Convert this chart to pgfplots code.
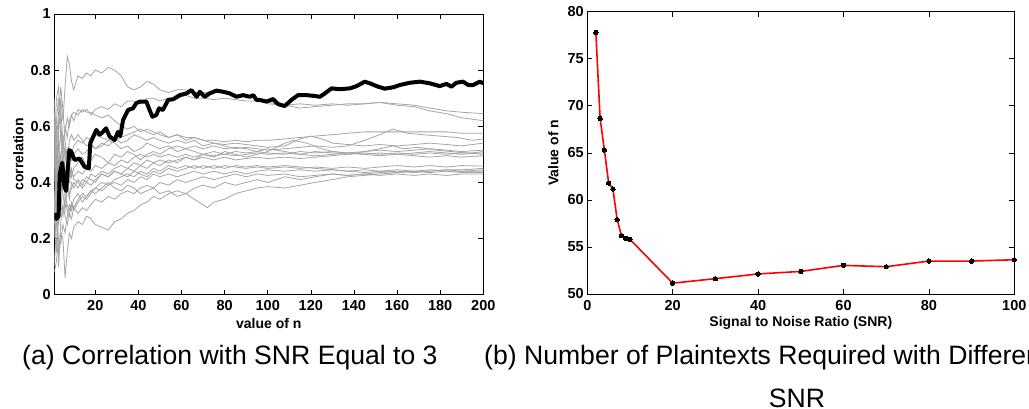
\documentclass[border=0pt]{standalone}
\usepackage{pgfplots}
\pgfplotsset{compat=1.18}
\usepackage{fontspec}
\setmainfont{Liberation Sans}
\definecolor{lg}{RGB}{165,165,165}
\pgfplotsset{
  mystyle/.style={
    scale only axis,
    axis line style={line width=0.8pt},
    every tick/.style={black, line width=0.6pt},
    major tick length=5pt,
    every tick label/.append style={font=\fontsize{14.5}{16}\selectfont\bfseries},
    every axis label/.append style={font=\fontsize{14}{16}\selectfont\bfseries},
    /pgf/number format/assume math mode=true,
    xticklabel={\textbf{\pgfmathprintnumber{\tick}}},
    xticklabel style={yshift=-2.5pt},
  },
  gl/.style={lg, line width=0.8pt, mark=none},
}
\begin{document}
\begin{tikzpicture}[x=1pt,y=1pt]
\path[use as bounding box] (0,0) rectangle (1029,409);
\begin{axis}[mystyle,
  at={(54.3pt,114.3pt)}, anchor=south west,
  width=429pt, height=280.7pt,
  xmin=1, xmax=200, ymin=0, ymax=1,
  xtick={20,40,...,200}, ytick={0,0.2,...,1},
  yticklabels={\textbf{0},\textbf{0.2},\textbf{0.4},\textbf{0.6},\textbf{0.8},\textbf{1}},
  xlabel={value of n}, ylabel={correlation},
  xlabel style={at={(axis description cs:0.5,-0.1015)}, anchor=center},
  ylabel style={at={(axis description cs:-0.0839,0.5)}, anchor=center},
]
% A
\addplot[gl] coordinates {(1,0.62)(2,0.45)(3,0.58)(4,0.70)(5,0.62)(6,0.74)(7,0.85)(8,0.82)(9,0.76)(10,0.73)(12,0.78)(14,0.77)(16,0.79)(18,0.78)(20,0.80)(23,0.79)(26,0.81)(29,0.80)(32,0.78)(35,0.74)(38,0.73)(41,0.74)(44,0.76)(47,0.75)(50,0.73)(54,0.72)(58,0.73)(62,0.73)(66,0.72)(70,0.72)(75,0.72)(80,0.72)(85,0.715)(90,0.71)(95,0.70)(100,0.68)(108,0.675)(115,0.665)(122,0.67)(130,0.675)(137,0.68)(145,0.68)(152,0.685)(160,0.68)(168,0.675)(175,0.665)(183,0.655)(190,0.65)(200,0.645)};
% B
\addplot[gl] coordinates {(1,0.40)(2,0.62)(3,0.70)(4,0.55)(5,0.50)(6,0.60)(7,0.56)(8,0.62)(9,0.64)(10,0.62)(12,0.66)(14,0.65)(16,0.66)(18,0.64)(20,0.66)(23,0.67)(26,0.66)(29,0.68)(32,0.67)(35,0.69)(38,0.69)(41,0.68)(44,0.70)(47,0.70)(50,0.69)(54,0.70)(58,0.70)(62,0.71)(66,0.70)(70,0.70)(75,0.695)(80,0.70)(85,0.695)(90,0.69)(95,0.69)(100,0.685)(108,0.675)(115,0.68)(122,0.675)(130,0.68)(137,0.675)(145,0.68)(152,0.685)(160,0.675)(168,0.67)(175,0.655)(183,0.645)(190,0.63)(200,0.62)};
% C
\addplot[gl] coordinates {(1,0.50)(2,0.35)(3,0.62)(4,0.66)(5,0.55)(6,0.58)(7,0.63)(8,0.60)(9,0.64)(10,0.65)(12,0.64)(14,0.66)(16,0.65)(18,0.65)(20,0.64)(23,0.63)(26,0.64)(29,0.62)(32,0.60)(35,0.59)(38,0.60)(41,0.58)(44,0.59)(47,0.58)(50,0.57)(54,0.56)(58,0.57)(62,0.56)(66,0.56)(70,0.55)(75,0.55)(80,0.545)(85,0.55)(90,0.545)(95,0.55)(100,0.55)(108,0.555)(115,0.56)(122,0.565)(130,0.57)(137,0.575)(145,0.58)(152,0.58)(160,0.58)(168,0.58)(175,0.58)(183,0.58)(190,0.575)(200,0.575)};
% D
\addplot[gl] coordinates {(1,0.30)(2,0.55)(3,0.45)(4,0.50)(5,0.42)(6,0.48)(7,0.52)(8,0.47)(9,0.50)(10,0.53)(12,0.55)(14,0.54)(16,0.56)(18,0.55)(20,0.57)(23,0.56)(26,0.55)(29,0.56)(32,0.54)(35,0.55)(38,0.57)(41,0.56)(44,0.55)(47,0.56)(50,0.55)(54,0.54)(58,0.55)(62,0.54)(66,0.55)(70,0.53)(75,0.54)(80,0.53)(85,0.52)(90,0.525)(95,0.52)(100,0.515)(108,0.52)(115,0.525)(122,0.53)(130,0.525)(137,0.53)(145,0.55)(152,0.57)(158,0.59)(165,0.575)(172,0.57)(180,0.565)(188,0.56)(195,0.55)(200,0.555)};
% E
\addplot[gl] coordinates {(1,0.65)(2,0.50)(3,0.40)(4,0.48)(5,0.56)(6,0.50)(7,0.45)(8,0.52)(9,0.48)(10,0.50)(12,0.52)(14,0.50)(16,0.51)(18,0.53)(20,0.52)(23,0.54)(26,0.53)(29,0.55)(32,0.56)(35,0.57)(38,0.58)(41,0.59)(44,0.58)(47,0.57)(50,0.58)(54,0.56)(58,0.57)(62,0.55)(66,0.56)(70,0.55)(75,0.54)(80,0.535)(85,0.54)(90,0.535)(95,0.53)(100,0.525)(108,0.53)(115,0.555)(120,0.565)(125,0.555)(130,0.54)(137,0.535)(145,0.53)(152,0.535)(160,0.53)(168,0.535)(175,0.54)(183,0.535)(190,0.53)(200,0.54)};
% F
\addplot[gl] coordinates {(1,0.20)(2,0.42)(3,0.55)(4,0.38)(5,0.45)(6,0.52)(7,0.48)(8,0.55)(9,0.57)(10,0.55)(12,0.57)(14,0.55)(16,0.53)(18,0.54)(20,0.52)(23,0.53)(26,0.55)(29,0.54)(32,0.52)(35,0.53)(38,0.51)(41,0.52)(44,0.54)(47,0.53)(50,0.52)(54,0.53)(58,0.51)(62,0.52)(66,0.51)(70,0.50)(75,0.51)(80,0.50)(85,0.51)(90,0.505)(95,0.51)(100,0.505)(108,0.50)(115,0.51)(122,0.505)(130,0.51)(137,0.505)(145,0.51)(152,0.515)(160,0.51)(168,0.515)(175,0.52)(183,0.515)(190,0.51)(200,0.515)};
% G
\addplot[gl] coordinates {(1,0.55)(2,0.30)(3,0.48)(4,0.60)(5,0.52)(6,0.42)(7,0.50)(8,0.46)(9,0.42)(10,0.45)(12,0.47)(14,0.49)(16,0.46)(18,0.48)(20,0.50)(23,0.49)(26,0.47)(29,0.50)(32,0.49)(35,0.51)(38,0.50)(41,0.48)(44,0.50)(47,0.51)(50,0.50)(54,0.52)(58,0.53)(62,0.52)(66,0.53)(70,0.52)(75,0.53)(80,0.52)(85,0.525)(90,0.52)(95,0.51)(100,0.52)(108,0.51)(115,0.50)(122,0.495)(130,0.50)(137,0.505)(145,0.50)(152,0.505)(160,0.50)(168,0.505)(175,0.51)(183,0.505)(190,0.50)(200,0.51)};
% H
\addplot[gl] coordinates {(1,0.10)(2,0.25)(3,0.35)(4,0.30)(5,0.40)(6,0.36)(7,0.42)(8,0.40)(9,0.44)(10,0.42)(12,0.44)(14,0.43)(16,0.45)(18,0.44)(20,0.46)(23,0.45)(26,0.47)(29,0.46)(32,0.48)(35,0.47)(38,0.49)(41,0.50)(44,0.49)(47,0.50)(50,0.49)(54,0.50)(58,0.49)(62,0.50)(66,0.49)(70,0.50)(75,0.495)(80,0.50)(85,0.495)(90,0.50)(95,0.505)(100,0.50)(108,0.505)(115,0.50)(122,0.51)(130,0.505)(137,0.50)(145,0.505)(152,0.50)(160,0.505)(168,0.50)(175,0.505)(183,0.50)(190,0.505)(200,0.505)};
% I
\addplot[gl] coordinates {(1,0.45)(2,0.60)(3,0.52)(4,0.44)(5,0.38)(6,0.44)(7,0.40)(8,0.36)(9,0.38)(10,0.40)(12,0.38)(14,0.41)(16,0.40)(18,0.43)(20,0.42)(23,0.44)(26,0.43)(29,0.45)(32,0.46)(35,0.45)(38,0.47)(41,0.46)(44,0.48)(47,0.47)(50,0.48)(54,0.47)(58,0.48)(62,0.49)(66,0.48)(70,0.49)(75,0.48)(80,0.49)(85,0.48)(90,0.485)(95,0.49)(100,0.485)(108,0.49)(115,0.485)(122,0.49)(130,0.495)(137,0.50)(145,0.51)(152,0.52)(158,0.53)(163,0.52)(170,0.525)(178,0.515)(185,0.51)(192,0.505)(200,0.50)};
% J
\addplot[gl] coordinates {(1,0.35)(2,0.15)(3,0.30)(4,0.42)(5,0.36)(6,0.30)(7,0.38)(8,0.34)(9,0.40)(10,0.38)(12,0.41)(14,0.39)(16,0.42)(18,0.41)(20,0.40)(23,0.43)(26,0.42)(29,0.44)(32,0.43)(35,0.45)(38,0.44)(41,0.46)(44,0.45)(47,0.47)(50,0.46)(54,0.48)(58,0.47)(62,0.49)(66,0.48)(70,0.50)(75,0.49)(80,0.51)(85,0.50)(90,0.49)(95,0.50)(100,0.51)(108,0.54)(112,0.55)(118,0.54)(125,0.52)(130,0.51)(137,0.505)(145,0.50)(152,0.495)(160,0.50)(168,0.495)(175,0.49)(183,0.495)(190,0.49)(200,0.495)};
% K
\addplot[gl] coordinates {(1,0.60)(2,0.40)(3,0.25)(4,0.32)(5,0.28)(6,0.35)(7,0.32)(8,0.30)(9,0.33)(10,0.31)(12,0.34)(14,0.36)(16,0.35)(18,0.37)(20,0.38)(23,0.40)(26,0.39)(29,0.41)(32,0.42)(35,0.43)(38,0.42)(41,0.44)(44,0.43)(47,0.45)(50,0.44)(54,0.46)(58,0.45)(62,0.46)(66,0.45)(70,0.46)(75,0.45)(80,0.46)(85,0.455)(90,0.45)(95,0.455)(100,0.45)(108,0.455)(115,0.45)(122,0.455)(130,0.45)(137,0.455)(145,0.45)(152,0.455)(160,0.46)(168,0.455)(175,0.46)(183,0.455)(190,0.46)(200,0.458)};
% L
\addplot[gl] coordinates {(1,0.08)(2,0.12)(3,0.20)(4,0.18)(5,0.25)(6,0.22)(7,0.28)(8,0.32)(9,0.30)(10,0.34)(12,0.36)(14,0.33)(16,0.35)(18,0.37)(20,0.36)(23,0.38)(26,0.40)(29,0.38)(32,0.37)(35,0.39)(38,0.38)(41,0.36)(44,0.37)(47,0.38)(50,0.36)(54,0.37)(58,0.35)(62,0.36)(66,0.34)(70,0.32)(72,0.31)(75,0.33)(80,0.34)(85,0.36)(90,0.37)(95,0.38)(100,0.385)(108,0.38)(115,0.39)(122,0.40)(130,0.41)(137,0.42)(145,0.425)(152,0.43)(160,0.435)(168,0.44)(175,0.44)(183,0.445)(190,0.445)(200,0.45)};
% M
\addplot[gl] coordinates {(1,0.30)(2,0.45)(3,0.15)(4,0.22)(5,0.20)(6,0.06)(7,0.15)(8,0.22)(9,0.20)(10,0.24)(12,0.26)(14,0.25)(16,0.28)(18,0.27)(20,0.25)(23,0.24)(26,0.23)(29,0.26)(32,0.27)(35,0.29)(38,0.30)(41,0.32)(44,0.33)(47,0.35)(50,0.34)(54,0.36)(58,0.37)(62,0.36)(66,0.38)(70,0.39)(75,0.38)(80,0.40)(85,0.39)(90,0.40)(95,0.41)(100,0.40)(108,0.42)(115,0.41)(122,0.42)(130,0.43)(137,0.425)(145,0.43)(152,0.435)(160,0.44)(168,0.435)(175,0.44)(183,0.445)(190,0.44)(200,0.445)};
% N
\addplot[gl] coordinates {(1,0.50)(2,0.70)(3,0.74)(4,0.60)(5,0.45)(6,0.35)(7,0.30)(8,0.28)(9,0.32)(10,0.30)(12,0.33)(14,0.35)(16,0.34)(18,0.36)(20,0.38)(23,0.37)(26,0.39)(29,0.40)(32,0.39)(35,0.41)(38,0.40)(41,0.42)(44,0.41)(47,0.43)(50,0.42)(54,0.43)(58,0.42)(62,0.43)(66,0.44)(70,0.43)(75,0.44)(80,0.43)(85,0.44)(90,0.43)(95,0.44)(100,0.445)(108,0.44)(115,0.445)(122,0.44)(130,0.445)(137,0.44)(145,0.445)(152,0.44)(160,0.445)(168,0.44)(175,0.445)(183,0.44)(190,0.44)(200,0.44)};
% O
\addplot[gl] coordinates {(1,0.25)(2,0.55)(3,0.65)(4,0.74)(5,0.66)(6,0.55)(7,0.48)(8,0.42)(9,0.45)(10,0.41)(12,0.40)(14,0.38)(16,0.40)(18,0.39)(20,0.41)(23,0.43)(26,0.42)(29,0.44)(32,0.43)(35,0.42)(38,0.44)(41,0.43)(44,0.42)(47,0.44)(50,0.43)(54,0.45)(58,0.44)(62,0.45)(66,0.46)(70,0.45)(75,0.46)(80,0.45)(85,0.46)(90,0.455)(95,0.46)(100,0.455)(108,0.46)(115,0.455)(122,0.45)(130,0.445)(137,0.44)(145,0.435)(152,0.44)(160,0.435)(168,0.44)(175,0.435)(183,0.44)(190,0.435)(200,0.435)};
% P
\addplot[gl] coordinates {(1,0.70)(2,0.35)(3,0.10)(4,0.26)(5,0.32)(6,0.28)(7,0.25)(8,0.29)(9,0.27)(10,0.31)(12,0.29)(14,0.31)(16,0.30)(18,0.32)(20,0.34)(23,0.33)(26,0.35)(29,0.34)(32,0.36)(35,0.37)(38,0.36)(41,0.38)(44,0.39)(47,0.38)(50,0.40)(54,0.39)(58,0.41)(62,0.40)(66,0.41)(70,0.42)(75,0.41)(80,0.42)(85,0.43)(90,0.42)(95,0.43)(100,0.425)(108,0.43)(115,0.42)(122,0.425)(130,0.43)(137,0.425)(145,0.43)(152,0.425)(160,0.43)(168,0.425)(175,0.43)(183,0.425)(190,0.43)(200,0.43)};
% black thick
\addplot[black, line width=4pt, line join=round, mark=none] coordinates {
(1,0.29)(2,0.27)(3,0.28)(3.5,0.43)(4.7,0.47)(5.7,0.385)(6.5,0.37)(7.3,0.45)(8,0.515)(8.8,0.51)(10.4,0.48)(12.7,0.485)(15,0.456)(17,0.45)(17.7,0.54)(20.5,0.587)(22,0.57)(23.6,0.58)(25,0.593)(26.7,0.563)(29,0.551)(30.5,0.58)(31.6,0.565)(32.9,0.622)(35.2,0.658)(37.5,0.664)(39,0.682)(40.6,0.688)(43.7,0.688)(45.2,0.658)(46.5,0.634)(48.3,0.64)(49.6,0.664)(51.4,0.658)(53.8,0.694)(56.1,0.696)(59.2,0.711)(62.3,0.717)(64.6,0.729)(67,0.705)(68.5,0.723)(70.8,0.705)(73,0.717)(76.2,0.727)(79.3,0.723)(82.4,0.717)(85.5,0.705)(88.6,0.711)(91.7,0.705)(93.3,0.711)(94.8,0.694)(96.3,0.694)(99.4,0.688)(102.5,0.697)(104.8,0.679)(107.9,0.672)(111,0.694)(114.1,0.711)(118,0.711)(121.8,0.708)(124.2,0.705)(126.5,0.717)(129.6,0.735)(133.4,0.732)(138.1,0.735)(141.2,0.743)(145,0.759)(147.4,0.753)(151.2,0.741)(154.3,0.734)(158.2,0.739)(161.3,0.747)(165.9,0.755)(170.6,0.759)(175.2,0.753)(179.8,0.743)(182.9,0.751)(185.2,0.741)(187.5,0.755)(190.6,0.759)(193,0.747)(195.3,0.747)(198.4,0.759)(200,0.753)};
\end{axis}
\begin{axis}[mystyle,
  at={(587.3pt,115pt)}, anchor=south west,
  width=427pt, height=282.3pt,
  xmin=0, xmax=100, ymin=50, ymax=80,
  xtick={0,20,...,100}, ytick={50,55,...,80},
  yticklabel={\textbf{\pgfmathprintnumber{\tick}}},
  xlabel={Signal to Noise Ratio (SNR)}, ylabel={Value of n},
  xlabel style={at={(axis description cs:0.5,-0.1027)}, anchor=center},
  ylabel style={at={(axis description cs:-0.0796,0.5)}, anchor=center},
]
\addplot[red, line width=1.6pt, mark=*, mark size=2.2pt,
  mark options={black, fill=black, line width=0pt}] coordinates {
(2,77.8)(3,68.65)(4,65.3)(5,61.8)(6,61.15)(7,57.9)(8,56.2)(9,55.9)(10,55.8)(20,51.15)(30,51.63)(40,52.13)(50,52.4)(60,53.04)(70,52.9)(80,53.5)(90,53.5)(100,53.64)};
\end{axis}
\node[anchor=west, inner sep=0pt, font=\fontsize{26.6}{30}\selectfont] at (22,51.3) {(a) Correlation with SNR Equal to 3};
\node[anchor=west, inner sep=0pt, font=\fontsize{26.6}{30}\selectfont] at (484,51.3) {(b) Number of Plaintexts Required with Different};
\node[anchor=center, inner sep=0pt, font=\fontsize{26.6}{30}\selectfont] at (797,10.9) {SNR};
\end{tikzpicture}
\end{document}
